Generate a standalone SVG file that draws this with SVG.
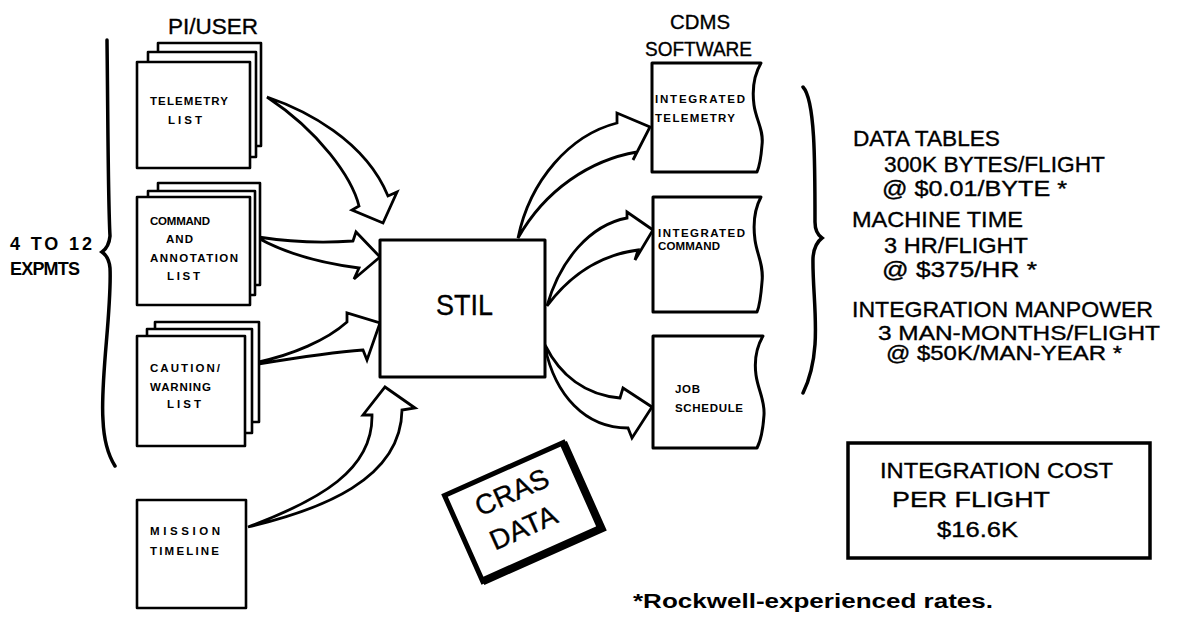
<svg xmlns="http://www.w3.org/2000/svg" width="1179" height="617" viewBox="0 0 1179 617">
<style>
.pg{fill:#fff;stroke:#000;stroke-width:2.6;stroke-linejoin:round}
.arr{fill:#fff;stroke:#000;stroke-width:2.8;stroke-linejoin:miter}
.br{fill:none;stroke:#000;stroke-width:3.5;stroke-linecap:round}
.sm{font-family:"Liberation Sans",Arial,sans-serif;font-weight:bold;font-size:11.5px;fill:#000}
.md{font-family:"Liberation Sans",Arial,sans-serif;font-size:22px;fill:#000;stroke:#000;stroke-width:0.35}
.lb{font-family:"Liberation Sans",Arial,sans-serif;font-weight:bold;font-size:18px;fill:#000}
</style>
<rect width="1179" height="617" fill="#fff"/>

<!-- braces -->
<path class="br" d="M107,40 C108,120 108,200 110,236 Q109,247 102,252 Q109,257 110,268 C112,310 100,380 103,420 C104,445 110,458 115,466"/>
<path class="br" d="M803,87 C815,100 815,160 815,222 Q815,233 822,238 Q814,244 813,258 C812,300 824,350 803,393"/>

<!-- labels -->
<text class="lb" x="10" y="250" textLength="82" lengthAdjust="spacing">4 TO 12</text>
<text class="lb" x="10" y="275" textLength="70" lengthAdjust="spacing">EXPMTS</text>
<text class="md" x="168" y="34" textLength="90" lengthAdjust="spacingAndGlyphs">PI/USER</text>
<text class="md" x="670" y="29" textLength="60" lengthAdjust="spacingAndGlyphs" style="font-size:21px">CDMS</text>
<text class="md" x="645" y="56" textLength="107" lengthAdjust="spacingAndGlyphs" style="font-size:20px">SOFTWARE</text>

<!-- connectors -->
<g id="connectors">
<path class="arr" d="M267,97 C305,110 365,140 388,196 L397,192 L383,223 L352,210 L359,206 C352,178 320,132 267,97 Z"/>
<path class="arr" d="M258,237 C290,242 325,243 353,241 L356,232 L380,257 L354,279 L359,268 C320,263 285,253 258,238 Z"/>
<path class="arr" d="M258,362 C292,355 327,340 347,322 L347,313 L380,323 L367,360 L363,350 C335,352 295,358 258,364 Z"/>
<path class="arr" d="M248,527 C320,510 401,480 402,410 L415,408 L385,387 L363,415 L372,415 C373,470 320,500 248,527 Z"/>
<path class="arr" d="M518,238 C530,180 570,135 617,123 L617,113 L650,127 L633,160 L637,152 C590,160 545,190 518,238 Z"/>
<path class="arr" d="M547,306 C560,260 590,225 627,218 L627,212 L653,230 L635,260 L638,250 C600,255 570,275 547,306 Z"/>
<path class="arr" d="M545,345 C560,375 585,395 620,398 L623,388 L652,407 L632,438 L628,428 C585,428 555,395 545,347 Z"/>
</g>

<!-- telemetry list -->
<g id="telemetry-list">
<rect class="pg" x="158" y="43" width="103" height="103"/>
<rect class="pg" x="148" y="52" width="108" height="105"/>
<rect class="pg" x="137" y="62" width="113" height="106"/>
<text class="sm" x="150" y="105" textLength="78" lengthAdjust="spacing">TELEMETRY</text>
<text class="sm" x="168" y="124" textLength="34" lengthAdjust="spacing">LIST</text>
</g>

<g id="command-list">
<rect class="pg" x="158" y="183" width="102" height="102"/>
<rect class="pg" x="148" y="191" width="107" height="104"/>
<rect class="pg" x="137" y="197" width="113" height="108"/>
<text class="sm" x="150" y="225" textLength="60" lengthAdjust="spacing">COMMAND</text>
<text class="sm" x="166" y="243" textLength="27" lengthAdjust="spacing">AND</text>
<text class="sm" x="150" y="262" textLength="88" lengthAdjust="spacing">ANNOTATION</text>
<text class="sm" x="167" y="280" textLength="33" lengthAdjust="spacing">LIST</text>
</g>

<g id="caution-list">
<rect class="pg" x="155" y="322" width="104" height="100"/>
<rect class="pg" x="147" y="329" width="105" height="104"/>
<rect class="pg" x="137" y="336" width="108" height="110"/>
<text class="sm" x="150" y="372" textLength="70" lengthAdjust="spacing">CAUTION/</text>
<text class="sm" x="150" y="391" textLength="61" lengthAdjust="spacing">WARNING</text>
<text class="sm" x="167" y="408" textLength="34" lengthAdjust="spacing">LIST</text>
</g>

<g id="mission-timeline">
<rect class="pg" x="137" y="500" width="109" height="108"/>
<text class="sm" x="150" y="535" textLength="70" lengthAdjust="spacing">MISSION</text>
<text class="sm" x="150" y="555" textLength="69" lengthAdjust="spacing">TIMELINE</text>
</g>

<g id="stil">
<rect class="pg" x="380" y="240" width="165" height="137" style="stroke-width:3"/>
<text class="md" x="436" y="315" textLength="57" lengthAdjust="spacingAndGlyphs" style="font-size:30px">STIL</text>
</g>

<g id="integrated-telemetry">
<path class="pg" style="stroke-width:3" d="M652,63 L761,63 C754,75 752,90 754,105 C756,120 764,130 762,145 C761,158 760,165 757,172 L652,172 Z"/>
<text class="sm" x="655" y="103" textLength="90" lengthAdjust="spacing">INTEGRATED</text>
<text class="sm" x="655" y="122" textLength="80" lengthAdjust="spacing">TELEMETRY</text>
</g>

<g id="integrated-command">
<path class="pg" style="stroke-width:3" d="M653,197 L761,197 C754,210 753,225 755,240 C757,255 764,265 762,282 C761,295 760,305 757,312 L653,312 Z"/>
<text class="sm" x="658" y="237" textLength="87" lengthAdjust="spacing">INTEGRATED</text>
<text class="sm" x="658" y="250" textLength="62" lengthAdjust="spacing">COMMAND</text>
</g>

<g id="job-schedule">
<path class="pg" style="stroke-width:3" d="M653,336 L763,336 C756,348 754,360 756,375 C758,390 765,400 764,415 C763,430 761,440 757,448 L653,448 Z"/>
<text class="sm" x="675" y="393" textLength="25" lengthAdjust="spacing">JOB</text>
<text class="sm" x="675" y="412" textLength="68" lengthAdjust="spacing">SCHEDULE</text>
</g>

<g id="cras-data" transform="translate(523,512) rotate(-24)">
<rect x="-65" y="-47" width="130" height="94" fill="#fff" stroke="#000" stroke-width="5"/>
<path d="M65,-47 L65,47 L-65,47" fill="none" stroke="#000" stroke-width="8"/>
<text class="md" x="-2" y="-13" text-anchor="middle" style="font-size:28px">CRAS</text>
<text class="md" x="-6" y="24" text-anchor="middle" style="font-size:28px">DATA</text>
</g>

<g id="costs">
<text class="md" x="853" y="146" textLength="147" lengthAdjust="spacingAndGlyphs">DATA TABLES</text>
<text class="md" x="884" y="172" textLength="221" lengthAdjust="spacingAndGlyphs">300K BYTES/FLIGHT</text>
<text class="md" x="882" y="196" textLength="185" lengthAdjust="spacingAndGlyphs">@ $0.01/BYTE *</text>
<text class="md" x="852" y="227" textLength="171" lengthAdjust="spacingAndGlyphs">MACHINE TIME</text>
<text class="md" x="884" y="253" textLength="144" lengthAdjust="spacingAndGlyphs">3 HR/FLIGHT</text>
<text class="md" x="882" y="277" textLength="155" lengthAdjust="spacingAndGlyphs">@ $375/HR *</text>
<text class="md" x="852" y="317" textLength="301" lengthAdjust="spacingAndGlyphs">INTEGRATION MANPOWER</text>
<text class="md" x="878" y="340" textLength="282" lengthAdjust="spacingAndGlyphs" style="font-size:21px">3 MAN-MONTHS/FLIGHT</text>
<text class="md" x="886" y="360" textLength="236" lengthAdjust="spacingAndGlyphs" style="font-size:20px">@ $50K/MAN-YEAR *</text>
</g>

<g id="integration-cost">
<rect x="848" y="443" width="302" height="115" fill="#fff" stroke="#000" stroke-width="3.5"/>
<text class="md" x="880" y="478" textLength="233" lengthAdjust="spacingAndGlyphs">INTEGRATION COST</text>
<text class="md" x="892" y="507" textLength="158" lengthAdjust="spacingAndGlyphs">PER FLIGHT</text>
<text class="md" x="937" y="537" textLength="81" lengthAdjust="spacingAndGlyphs">$16.6K</text>
</g>

<text x="633" y="608" textLength="360" lengthAdjust="spacingAndGlyphs" style="font-family:'Liberation Sans',Arial,sans-serif;font-size:20px;font-weight:bold">*Rockwell-experienced rates.</text>
</svg>
